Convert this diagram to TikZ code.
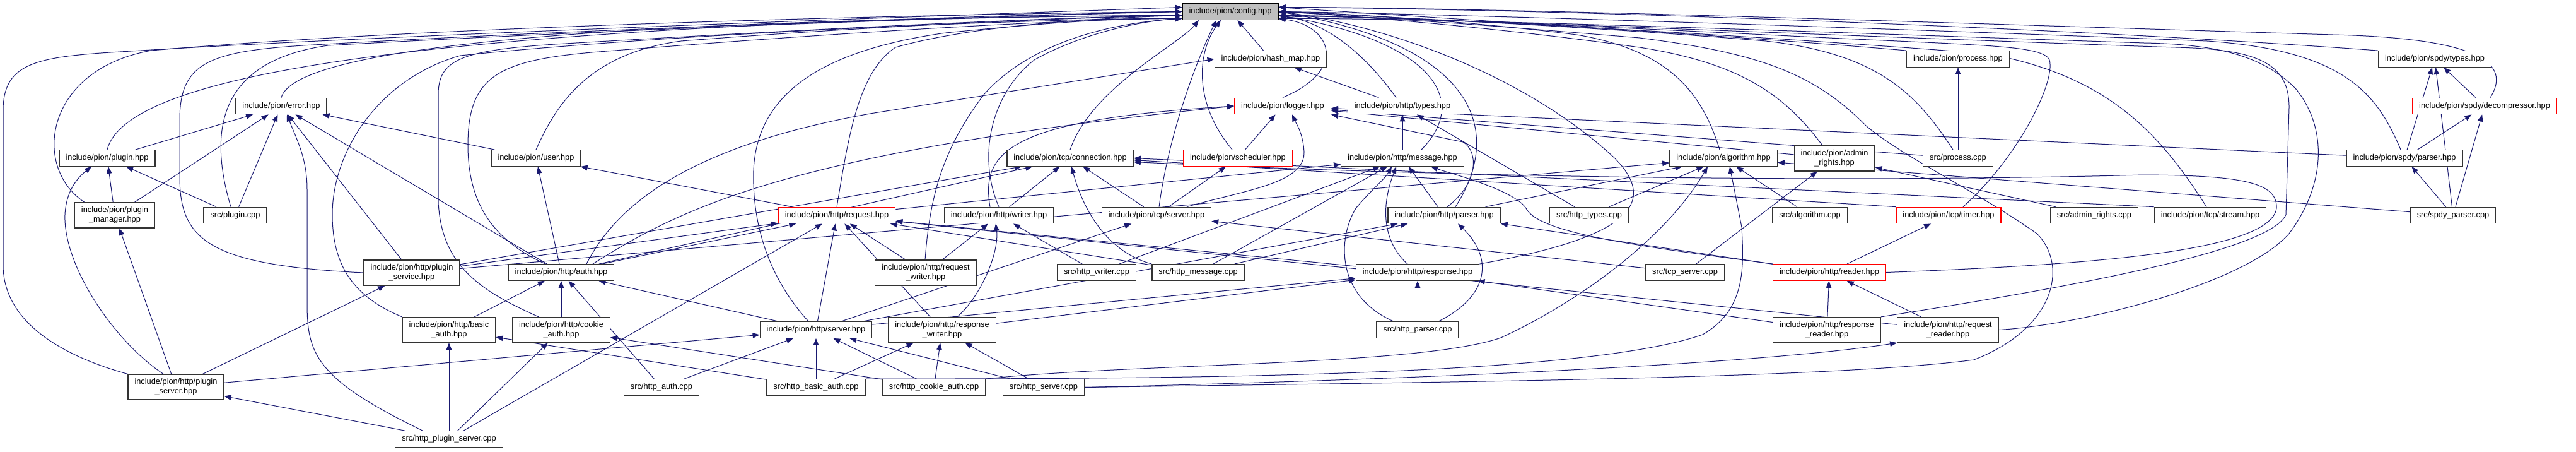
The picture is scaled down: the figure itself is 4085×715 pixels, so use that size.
\documentclass[tikz,border=0pt]{standalone}
\usepackage{fontspec}
\setmainfont{Liberation Sans}
\usetikzlibrary{arrows.meta,backgrounds}
\definecolor{edgec}{RGB}{25,25,112}
\definecolor{cfgfill}{RGB}{191,191,191}
\newcommand\nodefont{\fontsize{12.8pt}{15pt}\selectfont}
\tikzset{
  nbase/.style={draw=black!80, line width=1.3pt, fill=white, font=\nodefont, inner xsep=10.5pt, inner ysep=0pt},
  box/.style={nbase, minimum height=25.5pt, text height=9.3pt, text depth=2.8pt},
  rbox/.style={box, draw=red},
  box2/.style={nbase, align=center, minimum height=40pt},
  dep/.style={draw=edgec, line width=1pt, -{Triangle[length=11pt,width=8.5pt]}},
}
\begin{document}
\begin{tikzpicture}[x=1pt,y=1pt]
\useasboundingbox (0,0) rectangle (4085,-715);
% ---------- nodes ----------
\node[box,fill=cfgfill,draw=black] (config) at (1951,-18.5) {include/pion/config.hpp};
\node[box] (hashmap) at (2015,-93.5) {include/pion/hash\_map.hpp};
\node[box] (processh) at (3105,-93.5) {include/pion/process.hpp};
\node[box] (spdytypes) at (3861,-93.5) {include/pion/spdy/types.hpp};
\node[box] (error) at (446,-168) {include/pion/error.hpp};
\node[rbox] (logger) at (2034,-168) {include/pion/logger.hpp};
\node[box] (httptypes) at (2224,-168) {include/pion/http/types.hpp};
\node[rbox] (decomp) at (3940,-168) {include/pion/spdy/decompressor.hpp};
\node[box] (plugin) at (170,-250.5) {include/pion/plugin.hpp};
\node[box] (user) at (850,-250.5) {include/pion/user.hpp};
\node[box] (conn) at (1697,-250.5) {include/pion/tcp/connection.hpp};
\node[rbox] (sched) at (1963,-250.5) {include/pion/scheduler.hpp};
\node[box] (message) at (2224,-250.5) {include/pion/http/message.hpp};
\node[box] (algo) at (2733,-250.5) {include/pion/algorithm.hpp};
\node[box2] (adminh) at (2909,-251) {include/pion/admin\\\_rights.hpp};
\node[box] (processcpp) at (3105,-250.5) {src/process.cpp};
\node[box] (spdyparser) at (3813,-250.5) {include/pion/spdy/parser.hpp};
\node[box2] (pluginmgr) at (182,-341) {include/pion/plugin\\\_manager.hpp};
\node[box] (plugincpp) at (373,-341) {src/plugin.cpp};
\node[rbox] (request) at (1327,-341) {include/pion/http/request.hpp};
\node[box] (writer) at (1584,-341) {include/pion/http/writer.hpp};
\node[box] (tcpserver) at (1834,-341) {include/pion/tcp/server.hpp};
\node[box] (parser) at (2290,-341) {include/pion/http/parser.hpp};
\node[box] (httptypescpp) at (2520,-341) {src/http\_types.cpp};
\node[box] (algocpp) at (2870,-341) {src/algorithm.cpp};
\node[rbox] (timer) at (3090,-341) {include/pion/tcp/timer.hpp};
\node[box] (admincpp) at (3321,-341) {src/admin\_rights.cpp};
\node[box] (stream) at (3505,-341) {include/pion/tcp/stream.hpp};
\node[box] (spdyparsercpp) at (3890,-341) {src/spdy\_parser.cpp};
\node[box2] (pluginsvc) at (653,-432) {include/pion/http/plugin\\\_service.hpp};
\node[box] (auth) at (890,-431.5) {include/pion/http/auth.hpp};
\node[box2] (reqwriter) at (1468,-432) {include/pion/http/request\\\_writer.hpp};
\node[box] (httpwritercpp) at (1739,-431.5) {src/http\_writer.cpp};
\node[box] (httpmessagecpp) at (1900,-431.5) {src/http\_message.cpp};
\node[box] (response) at (2248,-431.5) {include/pion/http/response.hpp};
\node[box] (tcpservercpp) at (2672,-431.5) {src/tcp\_server.cpp};
\node[rbox] (reader) at (2901,-431.5) {include/pion/http/reader.hpp};
\node[box2] (basicauth) at (712,-522.5) {include/pion/http/basic\\\_auth.hpp};
\node[box2] (cookieauth) at (890,-522.5) {include/pion/http/cookie\\\_auth.hpp};
\node[box] (server) at (1294,-522.5) {include/pion/http/server.hpp};
\node[box2] (respwriter) at (1494,-522.5) {include/pion/http/response\\\_writer.hpp};
\node[box] (httpparsercpp) at (2248,-522.5) {src/http\_parser.cpp};
\node[box2] (respreader) at (2897,-522.5) {include/pion/http/response\\\_reader.hpp};
\node[box2] (reqreader) at (3089,-522.5) {include/pion/http/request\\\_reader.hpp};
\node[box2] (pluginserver) at (279,-613) {include/pion/http/plugin\\\_server.hpp};
\node[box] (httpauthcpp) at (1049,-613.5) {src/http\_auth.cpp};
\node[box] (basicauthcpp) at (1294,-613.5) {src/http\_basic\_auth.cpp};
\node[box] (cookieauthcpp) at (1481,-613.5) {src/http\_cookie\_auth.cpp};
\node[box] (httpservercpp) at (1655,-613.5) {src/http\_server.cpp};
\node[box] (plugsrvcpp) at (712,-695.5) {src/http\_plugin\_server.cpp};
% anchor points on config
\coordinate (cw1) at ([yshift=7pt]config.west);
\coordinate (cw2) at (config.west);
\coordinate (cw3) at ([yshift=-6pt]config.west);
\coordinate (cw4) at ([yshift=-11pt]config.west);
\coordinate (ce1) at ([yshift=7pt]config.east);
\coordinate (ce2) at (config.east);
\coordinate (ce3) at ([yshift=-6pt]config.east);
\coordinate (ce4) at ([yshift=-11pt]config.east);
% ---------- edges ----------
\begin{scope}[on background layer]
% to config, left side
\draw[dep] (error.north) .. controls (470,-70) and (1000,-30) .. (cw3);
\draw[dep] (plugin.north) .. controls (205,-100) and (800,-40) .. (cw2);
\draw[dep] ([xshift=-48pt]pluginmgr.north) .. controls (50,-265) and (70,-110) .. (240,-80) .. controls (700,-40) and (1500,-22) .. (cw2);
\draw[dep] ([xshift=-7pt]plugincpp.north) .. controls (325,-190) and (360,-95) .. (520,-72) .. controls (1000,-45) and (1600,-25) .. (cw2);
\draw[dep] (pluginsvc.west) .. controls (330,-420) and (285,-380) .. (285,-280) -- (285,-190) .. controls (285,-100) and (330,-82) .. (480,-72) .. controls (1000,-42) and (1600,-24) .. (cw3);
\draw[dep] (pluginserver.north west) .. controls (120,-570) and (5,-520) .. (5,-420) -- (5,-175) .. controls (5,-105) and (50,-92) .. (160,-84) .. controls (600,-55) and (1500,-25) .. (cw1);
\draw[dep] (user.north) .. controls (880,-170) and (930,-85) .. (1080,-65) .. controls (1400,-40) and (1700,-28) .. (cw3);
\draw[dep] ([xshift=-25pt]auth.north) .. controls (780,-380) and (742,-320) .. (742,-230) .. controls (742,-120) and (790,-95) .. (950,-82) .. controls (1350,-50) and (1700,-30) .. (cw4);
\draw[dep] ([xshift=-36pt]cookieauth.north) .. controls (760,-460) and (700,-420) .. (695,-320) -- (695,-150) .. controls (695,-95) and (730,-80) .. (880,-70) .. controls (1300,-45) and (1700,-26) .. (cw3);
\draw[dep] (basicauth.north west) .. controls (560,-470) and (527,-420) .. (527,-340) .. controls (527,-240) and (600,-125) .. (730,-88) .. controls (1100,-50) and (1700,-28) .. (cw4);
\draw[dep] ([xshift=-12pt]server.north) .. controls (1210,-430) and (1193,-340) .. (1195,-270) .. controls (1200,-150) and (1300,-80) .. (1500,-52) .. controls (1700,-32) and (1800,-28) .. (cw4);
\draw[dep] (request.north) .. controls (1345,-220) and (1360,-115) .. (1420,-75) .. controls (1550,-38) and (1760,-28) .. (cw3);
\draw[dep] ([xshift=-1pt]reqwriter.north) .. controls (1475,-300) and (1500,-230) .. (1560,-150) .. controls (1640,-60) and (1780,-35) .. (cw4);
\draw[dep] (writer.north) .. controls (1550,-250) and (1570,-150) .. (1640,-95) .. controls (1720,-50) and (1820,-32) .. (cw4);
% to config, below
\draw[dep] (conn.north) .. controls (1730,-140) and (1870,-70) .. ([xshift=-50pt]config.south);
\draw[dep] ([xshift=4pt]tcpserver.north) .. controls (1855,-200) and (1905,-80) .. ([xshift=-22pt]config.south);
\draw[dep] ([xshift=-9pt]sched.north) .. controls (1890,-160) and (1900,-80) .. ([xshift=-15pt]config.south);
\draw[dep] (hashmap) -- (config);
\draw[dep] (logger.north) .. controls (2140,-110) and (2110,-40) .. (ce4);
\draw[dep] ([xshift=-10pt]httptypes.north) .. controls (2160,-80) and (2100,-35) .. (ce3);
\draw[dep] ([xshift=30pt]message.north) .. controls (2340,-150) and (2250,-60) .. (ce3);
\draw[dep] ([xshift=18pt]parser.north) .. controls (2390,-200) and (2330,-70) .. (ce2);
\draw[dep] (response.north east) .. controls (2560,-380) and (2640,-330) .. (2560,-250) .. controls (2420,-120) and (2200,-40) .. (ce2);
% to config, right side
\draw[dep] (processh.north west) .. controls (2800,-60) and (2300,-30) .. (ce1);
\draw[dep] (spdytypes.north west) .. controls (3300,-45) and (2500,-15) .. (ce1);
\draw[dep] ([xshift=9pt]decomp.north) .. controls (3990,-90) and (3900,-60) .. (3700,-55) .. controls (3200,-40) and (2400,-12) .. (ce1);
\draw[dep] ([xshift=-6pt]algo.north) .. controls (2700,-150) and (2650,-80) .. (2500,-55) .. controls (2300,-30) and (2100,-20) .. (ce2);
\draw[dep] ([xshift=-19pt]adminh.north) .. controls (2830,-150) and (2760,-100) .. (2600,-75) .. controls (2350,-40) and (2100,-22) .. (ce2);
\draw[dep] ([xshift=-8pt]processcpp.north) .. controls (3040,-150) and (2980,-85) .. (2800,-65) .. controls (2500,-40) and (2150,-25) .. (ce2);
\draw[dep] ([xshift=-6pt]spdyparser.north) .. controls (3770,-150) and (3720,-80) .. (3500,-65) .. controls (3000,-45) and (2300,-22) .. (ce2);
\draw[dep] ([xshift=23pt]timer.north) .. controls (3200,-250) and (3260,-130) .. (3250,-95) .. controls (3240,-72) and (3150,-72) .. (2900,-60) .. controls (2500,-40) and (2150,-25) .. (ce3);
\draw[dep] ([xshift=-6pt]stream.north) .. controls (3430,-220) and (3350,-120) .. (3150,-85) .. controls (2700,-50) and (2200,-25) .. (ce3);
\draw[dep] (respreader.north east) .. controls (3250,-460) and (3600,-400) .. (3625,-340) -- (3630,-170) .. controls (3630,-100) and (3580,-78) .. (3450,-75) .. controls (3000,-60) and (2300,-30) .. (ce3);
\draw[dep] (reqreader.east) .. controls (3300,-515) and (3560,-450) .. (3630,-370) .. controls (3690,-290) and (3690,-200) .. (3640,-140) .. controls (3590,-90) and (3520,-70) .. (3400,-68) .. controls (3000,-55) and (2300,-28) .. (ce4);
\draw[dep] (httpservercpp.east) .. controls (2300,-605) and (2900,-600) .. (3130,-570) .. controls (3260,-520) and (3280,-420) .. (3230,-370) .. controls (3130,-300) and (3020,-250) .. (2960,-200) .. controls (2880,-120) and (2800,-85) .. (2600,-60) .. controls (2300,-35) and (2100,-20) .. (ce4);
% routed dependencies
\draw[dep] ([xshift=5pt]parser.north) .. controls (2345,-290) and (2345,-240) .. (2320,-225) -- (logger.south east);
\draw[dep] ([xshift=-14pt]writer.north) .. controls (1555,-240) and (1600,-190) .. (logger.west);
\draw[dep] ([xshift=50pt]auth.north) .. controls (1080,-330) and (1250,-240) .. (logger.west);
\draw[dep] ([xshift=40pt]auth.north) .. controls (980,-320) and (1100,-230) .. (1380,-180) -- (hashmap.west);
\draw[dep] ([xshift=48pt]tcpserver.north) .. controls (1980,-300) and (2070,-290) .. (2068,-240) .. controls (2066,-210) and (2055,-195) .. ([xshift=15pt]logger.south);
\draw[dep] ([xshift=-42pt]plugsrvcpp.north) .. controls (500,-600) and (487,-560) .. (487,-480) -- (487,-300) .. controls (487,-250) and (470,-220) .. ([xshift=9pt]error.south);
\draw[dep] ([xshift=-20pt]pluginserver.north) .. controls (180,-540) and (100,-420) .. (103,-340) .. controls (105,-300) and (125,-280) .. ([xshift=-25pt]plugin.south);
\draw[dep] ([xshift=24pt]respwriter.north) .. controls (1555,-470) and (1585,-400) .. ([xshift=-5pt]writer.south);
\draw[dep] (httpmessagecpp.north west) .. controls (1760,-400) and (1720,-340) .. ([xshift=2pt]conn.south);
\draw[dep] (stream.north west) -- (conn.east);
\draw[dep] (timer.north west) -- ([yshift=-3pt]conn.east);
\draw[dep] (reader.east) .. controls (3300,-420) and (3600,-400) .. (3610,-330) .. controls (3612,-290) and (3560,-278) .. (3400,-277) .. controls (3000,-288) and (2400,-285) .. ([yshift=-6pt]conn.east);
\draw[dep] (httpservercpp.east) .. controls (2300,-600) and (2800,-575) .. (reqreader.south west);
\draw[dep] (cookieauthcpp.north east) .. controls (1800,-575) and (2250,-580) .. (2380,-535) .. controls (2500,-480) and (2640,-380) .. ([xshift=-25pt]algo.south);
\draw[dep] (basicauthcpp.north east) .. controls (1800,-600) and (2500,-600) .. (2700,-530) .. controls (2770,-490) and (2765,-420) .. (2762,-360) -- ([xshift=10pt]algo.south);
\draw[dep] ([xshift=-38pt]httpparsercpp.north) .. controls (2120,-470) and (2120,-380) .. (2150,-330) .. controls (2175,-300) and (2195,-285) .. ([xshift=-17pt]message.south);
\draw[dep] ([xshift=33pt]httpparsercpp.north) .. controls (2360,-470) and (2370,-410) .. ([xshift=22pt]parser.south);
\draw[dep] ([xshift=-16pt]response.north) .. controls (2200,-390) and (2185,-340) .. ([xshift=-10pt]message.south);
\draw[dep] (reader.north west) .. controls (2600,-390) and (2440,-370) .. (2420,-330) .. controls (2400,-300) and (2300,-275) .. ([xshift=45pt]message.south);
% other dependencies
\foreach \s/\t in {httptypes/hashmap,
  processcpp/processh,
  decomp/spdytypes, spdyparser/spdytypes, spdyparsercpp/spdytypes,
  plugin/error, user/error, pluginmgr/error, plugincpp/error, pluginsvc/error, auth/error,
  sched/logger, adminh/logger, spdyparser/logger, processcpp/logger,
  message/httptypes, httptypescpp/httptypes,
  spdyparser/decomp, spdyparsercpp/decomp,
  pluginmgr/plugin, plugincpp/plugin,
  request/user, auth/user,
  writer/conn, tcpserver/conn, auth/conn, pluginsvc/conn,
  tcpserver/sched,
  request/message, parser/message, httpwritercpp/message, httpmessagecpp/message,
  httptypescpp/algo, algocpp/algo, spdyparsercpp/algo, pluginsvc/algo, parser/algo,
  admincpp/adminh, tcpservercpp/adminh,
  spdyparsercpp/spdyparser,
  pluginserver/pluginmgr,
  reqwriter/request, response/request, auth/request, server/request, pluginsvc/request, plugsrvcpp/request, httpmessagecpp/request, reqreader/request, respwriter/request,
  reqwriter/writer, httpwritercpp/writer,
  server/tcpserver, tcpservercpp/tcpserver,
  reader/parser, server/parser, httpmessagecpp/parser,
  reader/timer,
  pluginserver/pluginsvc,
  basicauth/auth, cookieauth/auth, server/auth, httpauthcpp/auth,
  respwriter/response, httpparsercpp/response, respreader/response, server/response,
  respreader/reader, reqreader/reader,
  plugsrvcpp/basicauth, basicauthcpp/basicauth,
  plugsrvcpp/cookieauth, cookieauthcpp/cookieauth,
  pluginserver/server, httpauthcpp/server, basicauthcpp/server, cookieauthcpp/server, httpservercpp/server,
  cookieauthcpp/respwriter, basicauthcpp/respwriter, httpservercpp/respwriter,
  plugsrvcpp/pluginserver}
  \draw[dep] (\s) -- (\t);
\end{scope}
\end{tikzpicture}
\end{document}
